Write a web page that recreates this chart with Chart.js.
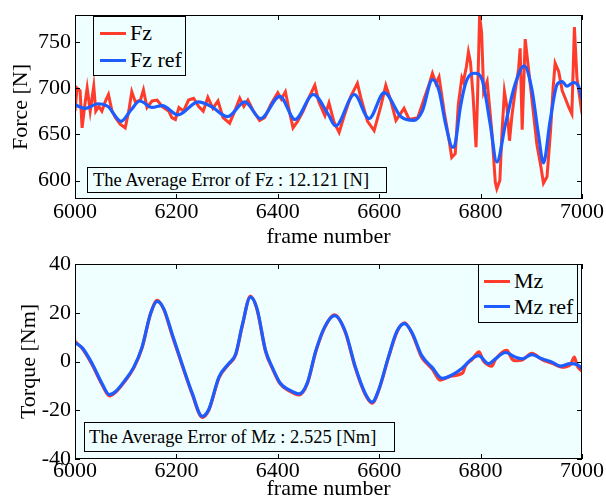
<!DOCTYPE html>
<html>
<head>
<meta charset="utf-8">
<title>Fz / Mz</title>
<script src="https://cdn.jsdelivr.net/npm/chart.js@4"></script>
<style>
html,body{margin:0;padding:0;background:#fff;overflow:hidden;}
#wrap{position:relative;width:606px;height:498px;font-family:"Liberation Serif","Times New Roman",serif;color:#000;}
canvas{position:absolute;left:0;}
.box{position:absolute;box-sizing:border-box;border:1px solid #000;background:#effefe;}
.row{position:absolute;left:0;height:26px;line-height:26px;font-size:22px;white-space:nowrap;}
.ln{position:absolute;height:3px;width:26px;}
.err{position:absolute;box-sizing:border-box;border:1px solid #000;background:#effefe;font-size:18.5px;white-space:nowrap;}
</style>
</head>
<body>
<div id="wrap">
  <canvas id="top" width="606" height="249" style="top:0"></canvas>
  <canvas id="bot" width="606" height="249" style="top:249px"></canvas>

  <div class="box" style="left:93px;top:16px;width:93px;height:60px">
    <div class="ln" style="left:6px;top:15px;background:#ff3b2b"></div>
    <div class="row" style="left:36px;top:3px">Fz</div>
    <div class="ln" style="left:6px;top:42px;background:#1d5cff"></div>
    <div class="row" style="left:36px;top:30px">Fz ref</div>
  </div>
  <div class="err" style="left:87px;top:167px;width:300px;height:26px;line-height:24px;padding-left:5px">The Average Error of Fz : 12.121 [N]</div>

  <div class="box" style="left:478px;top:264px;width:100px;height:59px">
    <div class="ln" style="left:5px;top:15px;background:#ff3b2b"></div>
    <div class="row" style="left:35px;top:3px">Mz</div>
    <div class="ln" style="left:5px;top:40px;background:#1d5cff"></div>
    <div class="row" style="left:35px;top:29px">Mz ref</div>
  </div>
  <div class="err" style="left:84px;top:422px;width:311px;height:30px;line-height:28px;padding-left:4px">The Average Error of Mz : 2.525 [Nm]</div>
</div>

<script>
// x axis
const xTicks = [6000, 6200, 6400, 6600, 6800, 7000];

// Fz (measured)
const fzFrames = [6000,6004,6010,6014,6019,6024,6030,6037,6041,6047,6053,6060,6066,6073,6080,6089,6099,6106,6112,6119,6129,6135,6142,6152,6162,6172,6185,6191,6198,6205,6214,6224,6234,6244,
  6253,6262,6272,6282,6292,6305,6315,6325,6333,6341,6351,6364,6374,6387,6400,6407,6415,6424,6430,6439,6450,6460,6473,6481,6493,
  6501,6511,6521,6531,6544,6557,6564,6577,6590,6603,6613,6623,6633,6649,6659,6676,6689,6699,6705,6712,6718,6728,6738,
  6743,6750,6756,6763,6766,6772,6776,6780,6785,6791,6794,6798,6802,6806,6813,6822,6829,6832,6838,6842,6847,6852,6857,6862,6868,
  6875,6878,6882,6888,6893,6901,6911,6918,6924,6931,6938,6943,6947,6954,6961,6967,6974,6980,6985,6990,6997,7000];
const fzValues = [675,700,697,657,680,700,675,702,675,680,675,686,693,675,668,661,657,675,696,685,687,698,679,686,687,680,675,668,666,679,675,687,689,680,
  675,690,678,686,668,662,675,689,680,687,676,665,668,683,695,688,696,672,657,664,675,688,703,685,670,
  684,663,652,670,691,705,689,664,654,680,703,686,665,678,666,668,689,705,716,705,712,675,643,
  625,629,682,711,707,723,739,728,693,636,690,778,760,696,707,654,598,591,600,650,696,679,643,671,696,
  721,743,655,753,728,689,639,618,597,604,654,700,727,718,697,689,679,672,766,711,684,700];

// Fz ref
const fzRefFrames = [6000,6020,6045,6065,6091,6110,6128,6152,6172,6203,6243,6269,6301,6335,6366,6404,6434,6470,6499,6514,6551,6580,6610,6643,6669,6685,
  6705,6718,6731,6745,6750,6760,6773,6789,6803,6819,6832,6849,6868,6886,6901,6914,6924,6937,6951,6961,6970,6984,6993,7000];
const fzRefValues = [682,678,683,680,664,676,686,679,681,671,685,680,669,685,667,691,666,693,672,659,693,667,695,669,665,675,
  709,697,661,636,640,679,709,716,709,661,620,661,704,724,699,650,619,664,704,707,702,706,702,688];
const fzTicks = [600, 650, 700, 750];

// Mz ref
const mzRefFrames = [6000,6014,6034,6053,6068,6080,6099,6116,6132,6149,6162,6175,6192,6211,6231,6251,6264,6284,6303,6317,6330,6346,6359,6376,6389,6405,6422,6442,6458,6475,
  6492,6512,6533,6553,6572,6586,6599,6618,6635,6650,6665,6684,6704,6724,6743,6763,6783,6796,6816,6829,6849,6869,6882,6901,6921,6941,6957,6977,6990,7000];
const mzRefValues = [7.7,5.7,-0.9,-8.9,-13.6,-12.3,-7.6,-2.3,5.7,19.7,24.7,21.7,11,-0.9,-12.9,-22.5,-19.6,-6.3,-0.9,3.1,15,26.4,21.7,4.4,-2.3,-8.9,-11.6,-13.3,-8.9,4.4,
  14,18.8,12.4,-2.3,-12.9,-16.7,-11.6,1.7,12.4,15.5,11.7,2.4,-2.3,-6.9,-5.6,-2.9,1.1,2.4,-0.9,1.1,3.7,1.7,1.1,2.8,1.1,-0.3,-1.9,-0.9,-1.2,-2.9];

// Mz (measured)
const mzFrames = [6000,6014,6034,6053,6068,6080,6099,6116,6132,6149,6162,6175,6192,6211,6231,6251,6264,6284,6303,6317,6330,6346,6359,6376,6389,6405,6422,6442,6458,6475,
  6492,6512,6533,6553,6572,6586,6599,6618,6635,6650,6665,6684,6695,6705,6720,6743,6765,6770,6783,6797,6805,6816,6822,6829,6852,6862,6870,6882,6901,6921,6941,6960,6977,6985,6990,7000];
const mzValues = [8.2,5.4,-1.4,-9.3,-14.1,-12.6,-7.9,-2.6,5.4,19.5,25.1,21.4,10.5,-1.3,-13.3,-22.9,-19.9,-6.7,-1.2,2.8,14.7,26.8,21.3,4.0,-2.7,-9.3,-12.0,-13.7,-9.2,4.1,
  13.7,19.1,12.0,-2.7,-13.3,-17.1,-11.9,1.4,12.1,15.9,11.4,1.6,-1.0,-3.2,-7.6,-5.9,-4.6,-1.8,0.8,4.0,0.4,-1.6,-1.9,0.8,4.6,1.0,0.3,0.6,3.3,0.8,-0.7,-2.3,-1.3,1.8,-1.6,-4.0];
const mzTicks = [-40, -20, 0, 20, 40];

const RED = '#ff3b2b', BLUE = '#1d5cff', BG = '#effefe';
const FONT = {family: "'Liberation Serif', 'Times New Roman', serif", size: 22, lineHeight: 1};
Chart.defaults.font.family = FONT.family;

const pts = (xs, ys) => xs.map((x, i) => ({x: x, y: ys[i]}));

// plot box: cyan fill, black frame, inward ticks on all four sides
const boxPlugin = {
  id: 'boxPlugin',
  beforeDatasetsDraw(chart) {
    const {ctx, chartArea: a} = chart;
    ctx.save();
    ctx.fillStyle = BG;
    ctx.fillRect(a.left, a.top, a.right - a.left, a.bottom - a.top);
    ctx.restore();
  },
  afterDraw(chart) {
    const {ctx, chartArea: a, scales} = chart;
    const len = 5;
    ctx.save();
    ctx.strokeStyle = '#000';
    ctx.lineWidth = 1;
    ctx.beginPath();
    scales.x.ticks.forEach(t => {
      const p = Math.round(scales.x.getPixelForValue(t.value)) + 0.5;
      ctx.moveTo(p, a.bottom); ctx.lineTo(p, a.bottom - len);
      ctx.moveTo(p, a.top); ctx.lineTo(p, a.top + len);
    });
    scales.y.ticks.forEach(t => {
      const p = Math.round(scales.y.getPixelForValue(t.value)) + 0.5;
      ctx.moveTo(a.left, p); ctx.lineTo(a.left + len, p);
      ctx.moveTo(a.right, p); ctx.lineTo(a.right - len, p);
    });
    ctx.stroke();
    ctx.strokeRect(Math.round(a.left) + 0.5, Math.round(a.top) + 0.5, Math.round(a.right - a.left) - 1, Math.round(a.bottom - a.top) - 1);
    ctx.restore();
  }
};

function makeChart(id, cfg) {
  return new Chart(document.getElementById(id), {
    type: 'line',
    data: {datasets: [
      // reference first so it is painted over the measured trace
      {label: cfg.names[1], data: pts(cfg.ref[0], cfg.ref[1]), borderColor: BLUE, borderWidth: 3.2, pointRadius: 0,
        cubicInterpolationMode: 'monotone'},
      {label: cfg.names[0], data: pts(cfg.meas[0], cfg.meas[1]), borderColor: RED, borderWidth: cfg.redW, pointRadius: 0,
        tension: 0, cubicInterpolationMode: cfg.redSmooth ? 'monotone' : 'default'}
    ]},
    options: {
      responsive: false,
      animation: false,
      layout: {padding: {top: cfg.padTop, right: 24, left: 0, bottom: 0}},
      plugins: {legend: {display: false}, tooltip: {enabled: false}},
      scales: {
        x: {
          type: 'linear', min: 6000, max: 7000,
          afterBuildTicks: s => { s.ticks = xTicks.map(v => ({value: v})); },
          afterFit: s => { s.height = cfg.xH; },
          grid: {display: false, drawTicks: false},
          border: {display: false},
          ticks: {font: FONT, color: '#000', padding: cfg.xPad, autoSkip: false, maxRotation: 0, callback: v => String(v)},
          title: {display: true, text: 'frame number', font: FONT, color: '#000', padding: {top: 0, bottom: cfg.titlePad}}
        },
        y: {
          min: cfg.ymin, max: cfg.ymax,
          afterBuildTicks: s => { s.ticks = cfg.yTicks.map(v => ({value: v})); },
          afterFit: s => { s.width = 75; },
          grid: {display: false, drawTicks: false},
          border: {display: false},
          ticks: {font: FONT, color: '#000', padding: 4, callback: v => String(v)},
          title: {display: true, text: cfg.yTitle, font: FONT, color: '#000', padding: {top: cfg.yTitlePad, bottom: 0}}
        }
      }
    },
    plugins: [boxPlugin]
  });
}

makeChart('top', {
  names: ['Fz', 'Fz ref'], meas: [fzFrames, fzValues], ref: [fzRefFrames, fzRefValues], redW: 3, redSmooth: false,
  padTop: 13, xH: 50, xPad: 2, titlePad: 1, ymin: 580, ymax: 779, yTicks: fzTicks, yTitle: 'Force [N]', yTitlePad: 10
});
makeChart('bot', {
  names: ['Mz', 'Mz ref'], meas: [mzFrames, mzValues], ref: [mzRefFrames, mzRefValues], redW: 3.2, redSmooth: true,
  padTop: 11, xH: 39, xPad: 1, titlePad: -2, ymin: -40, ymax: 40, yTicks: mzTicks, yTitle: 'Torque [Nm]', yTitlePad: 18
});
</script>
</body>
</html>
